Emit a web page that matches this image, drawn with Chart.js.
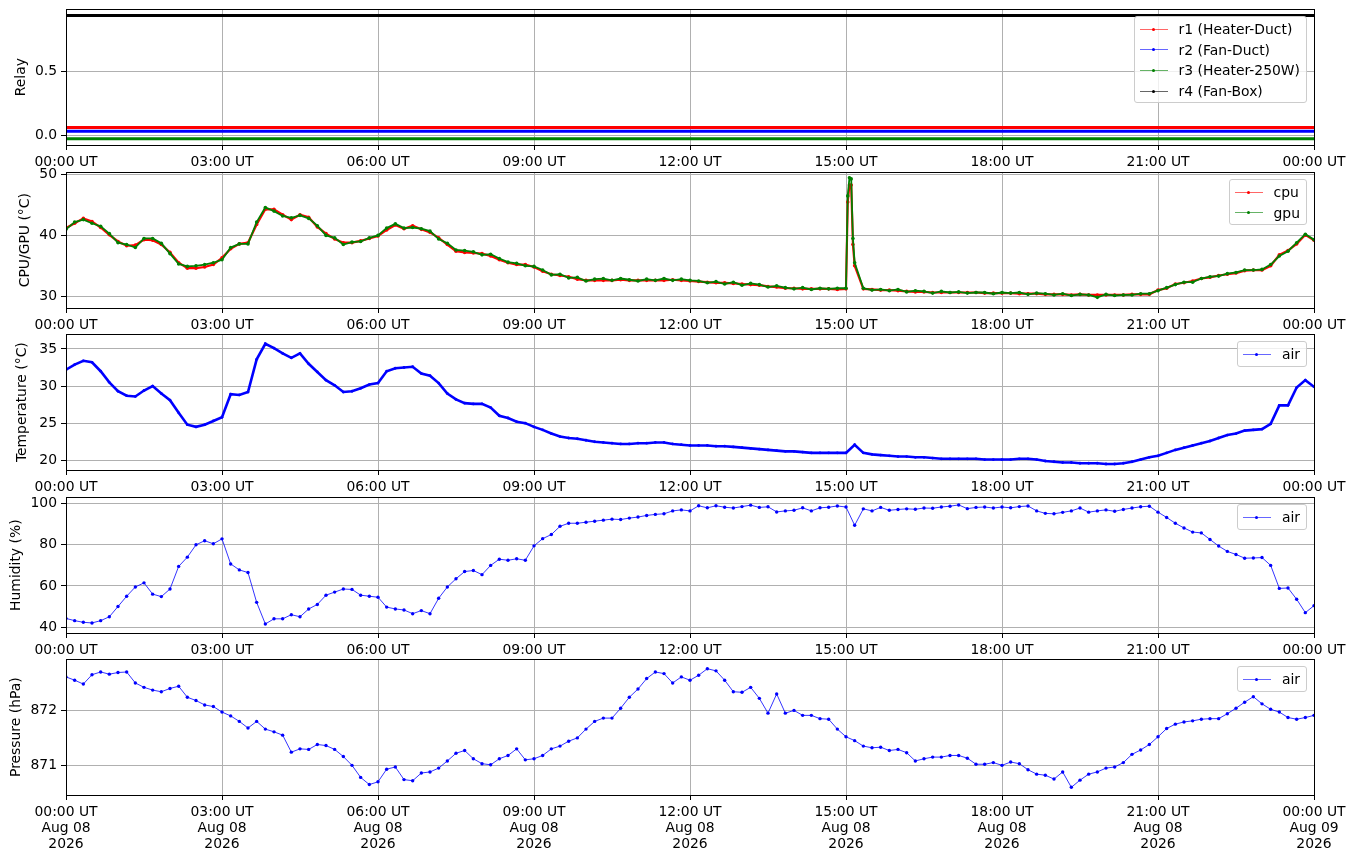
<!DOCTYPE html>
<html>
<head>
<meta charset="utf-8">
<script src="https://cdn.jsdelivr.net/npm/chart.js@4.4.0/dist/chart.umd.min.js"></script>
<style>
  html, body { margin: 0; padding: 0; background: #fff; }
  #fig { position: relative; width: 1355px; height: 861px; overflow: hidden; font-family: "DejaVu Sans", sans-serif; }
  #fig canvas { position: absolute; left: 0; }
  .legend { position: absolute; z-index: 5; background: rgba(255,255,255,0.8); border: 1px solid #ccc; border-radius: 3px;
            padding: 2px 6px 1px 5px; font-size: 13.9px; color: #000; }
  .legend .row { display: flex; align-items: center; height: 20.6px; white-space: nowrap; }
  .legend .key { position: relative; width: 28px; height: 8px; margin-right: 11px; }
  .legend .key .ln { position: absolute; left: 0; right: 0; top: 3.5px; height: 1px; opacity: 0.6; }
  .legend .key .dot { position: absolute; left: 12.5px; top: 2.5px; width: 3px; height: 3px; border-radius: 50%; }
</style>
</head>
<body>
<div id="fig"></div>
<script>
// sample times in minutes since 00:00 UT, one reading every 10 minutes
const times = Array.from({ length: 145 }, (_, i) => i * 10);

// x axis ticks (minutes) and their labels
const xTicks = [0, 180, 360, 540, 720, 900, 1080, 1260, 1440];
const xTickLabels = ["00:00 UT", "03:00 UT", "06:00 UT", "09:00 UT", "12:00 UT", "15:00 UT", "18:00 UT", "21:00 UT", "00:00 UT"];
const xDateLabels = ["Aug 08", "Aug 08", "Aug 08", "Aug 08", "Aug 08", "Aug 08", "Aug 08", "Aug 08", "Aug 09"];
const xYearLabels = ["2026", "2026", "2026", "2026", "2026", "2026", "2026", "2026", "2026"];

// relays: state over the day, plus the small offset used to keep the lines apart
const relayNames = ["r1 (Heater-Duct)", "r2 (Fan-Duct)", "r3 (Heater-250W)", "r4 (Fan-Box)"];
const relayTimes = [0, 1440];
const relayState = [0, 0, 0, 1];
const relayOffset = [0.06, 0.03, -0.03, -0.06];

// CPU / GPU temperature (deg C)
const cpu = [
  41.2, 42.0, 42.8, 42.3, 41.3, 40.1, 39.0, 38.3, 38.4, 39.3,
  39.2, 38.5, 37.2, 35.5, 34.6, 34.6, 34.8, 35.2, 36.3, 37.8,
  38.6, 38.8, 41.8, 44.3, 44.3, 43.4, 42.6, 43.4, 43.0, 41.4,
  40.3, 39.4, 38.8, 38.8, 39.1, 39.5, 39.9, 40.9, 41.7, 41.1,
  41.6, 41.0, 40.5, 39.6, 38.5, 37.4, 37.2, 37.1, 37.0, 36.6,
  36.0, 35.5, 35.2, 35.2, 34.8, 34.1, 33.6, 33.4, 33.2, 32.8,
  32.6, 32.6, 32.6, 32.6, 32.7, 32.6, 32.6, 32.6, 32.6, 32.6,
  32.7, 32.6, 32.5, 32.4, 32.3, 32.2, 32.2, 32.1, 32.0, 31.9,
  31.8, 31.6, 31.5, 31.3, 31.3, 31.2, 31.2, 31.2, 31.2, 31.1,
  31.2, 35.0, 31.2, 31.1, 31.0, 31.0, 30.9, 30.8, 30.7, 30.7,
  30.6, 30.6, 30.6, 30.6, 30.6, 30.6, 30.5, 30.5, 30.5, 30.5,
  30.4, 30.4, 30.4, 30.3, 30.3, 30.3, 30.2, 30.3, 30.2, 30.2,
  30.2, 30.2, 30.2, 30.3, 30.3, 30.3, 31.0, 31.3, 32.0, 32.2,
  32.5, 32.9, 33.1, 33.4, 33.6, 33.8, 34.2, 34.3, 34.3, 35.0,
  36.8, 37.5, 38.6, 40.1, 39.2
];
const gpu = [
  41.0, 42.2, 42.6, 42.0, 41.5, 40.3, 38.8, 38.5, 38.0, 39.5,
  39.5, 38.7, 37.0, 35.3, 34.9, 35.0, 35.2, 35.5, 36.0, 38.0,
  38.6, 38.6, 42.2, 44.6, 44.0, 43.2, 42.9, 43.3, 42.8, 41.6,
  40.0, 39.6, 38.5, 38.9, 39.0, 39.6, 40.0, 41.2, 41.9, 41.2,
  41.3, 41.1, 40.7, 39.4, 38.7, 37.6, 37.5, 37.3, 36.8, 36.9,
  36.2, 35.6, 35.4, 35.0, 34.9, 34.3, 33.5, 33.6, 33.0, 33.1,
  32.5, 32.8, 32.9, 32.6, 32.9, 32.7, 32.5, 32.8, 32.6, 32.9,
  32.6, 32.8, 32.6, 32.5, 32.2, 32.4, 32.0, 32.3, 31.8, 32.1,
  31.9, 31.5, 31.7, 31.4, 31.2, 31.4, 31.1, 31.3, 31.2, 31.3,
  31.3, 35.5, 31.3, 31.0, 31.1, 30.9, 31.1, 30.7, 30.9, 30.8,
  30.5, 30.8, 30.6, 30.7, 30.5, 30.6, 30.6, 30.4, 30.6, 30.5,
  30.6, 30.3, 30.5, 30.4, 30.2, 30.4, 30.1, 30.3, 30.2, 29.8,
  30.3, 30.1, 30.2, 30.2, 30.4, 30.4, 30.9, 31.4, 31.9, 32.3,
  32.3, 32.9, 33.2, 33.3, 33.7, 33.9, 34.3, 34.3, 34.4, 35.2,
  36.6, 37.4, 38.8, 40.2, 39.3
];
// short load spike just after 15:00 UT, read at finer spacing
const spikeTimes = [902, 904, 906, 908];
const cpuSpike = [45.5, 48.3, 48.3, 38.5];
const gpuSpike = [46.5, 49.5, 49.3, 39.5];

// air temperature (deg C)
const airTemp = [
  32.2, 32.9, 33.4, 33.2, 32.0, 30.5, 29.3, 28.7, 28.6, 29.4,
  30.0, 29.0, 28.1, 26.4, 24.8, 24.5, 24.8, 25.3, 25.8, 28.9,
  28.8, 29.2, 33.6, 35.7, 35.1, 34.4, 33.8, 34.4, 33.0, 31.9,
  30.8, 30.1, 29.2, 29.3, 29.7, 30.2, 30.4, 32.0, 32.4, 32.5,
  32.6, 31.7, 31.4, 30.4, 29.0, 28.2, 27.7, 27.6, 27.6, 27.1,
  26.0, 25.7, 25.2, 25.0, 24.5, 24.1, 23.6, 23.2, 23.0, 22.9,
  22.7, 22.5, 22.4, 22.3, 22.2, 22.2, 22.3, 22.3, 22.4, 22.4,
  22.2, 22.1, 22.0, 22.0, 22.0, 21.9, 21.9, 21.8, 21.7, 21.6,
  21.5, 21.4, 21.3, 21.2, 21.2, 21.1, 21.0, 21.0, 21.0, 21.0,
  21.0, 22.1, 21.0, 20.8, 20.7, 20.6, 20.5, 20.5, 20.4, 20.4,
  20.3, 20.2, 20.2, 20.2, 20.2, 20.2, 20.1, 20.1, 20.1, 20.1,
  20.2, 20.2, 20.1, 19.9, 19.8, 19.7, 19.7, 19.6, 19.6, 19.6,
  19.5, 19.5, 19.6, 19.8, 20.1, 20.4, 20.6, 21.0, 21.4, 21.7,
  22.0, 22.3, 22.6, 23.0, 23.4, 23.6, 24.0, 24.1, 24.2, 24.9,
  27.4, 27.4, 29.8, 30.8, 29.9
];

// relative humidity (%)
const humidity = [
  44.2, 43.1, 42.3, 42.0, 43.1, 45.0, 50.0, 55.0, 59.5, 61.5,
  56.0, 54.8, 58.5, 69.5, 74.0, 80.0, 82.0, 80.5, 82.9, 70.7,
  67.8, 66.5, 52.0, 41.5, 44.0, 44.0, 46.0, 45.0, 48.8, 51.0,
  55.5, 57.0, 58.5, 58.3, 55.5, 55.0, 54.5, 49.7, 48.8, 48.3,
  46.5, 48.0, 46.5, 54.0, 59.5, 63.5, 67.0, 67.5, 65.5, 70.0,
  73.0, 72.5, 73.2, 72.5, 79.5, 83.0, 85.0, 89.0, 90.5, 90.5,
  91.0, 91.5, 92.0, 92.5, 92.3, 93.0, 93.5, 94.3, 94.8, 95.1,
  96.5, 97.0, 96.5, 99.0, 98.0, 99.0, 98.3, 97.9, 98.6, 99.3,
  98.2, 98.5, 96.0, 96.5, 96.8, 98.0, 96.5, 98.0, 98.3, 98.9,
  98.4, 89.5, 97.5, 96.5, 98.2, 96.8, 97.2, 97.5, 97.3, 97.9,
  97.8, 98.4, 98.8, 99.4, 97.6, 98.2, 98.4, 97.9, 98.4, 98.0,
  98.6, 98.9, 96.5, 95.3, 95.1, 95.8, 96.5, 97.9, 95.9, 96.5,
  97.0, 96.3, 97.2, 97.9, 98.5, 98.8, 95.9, 93.3, 90.5, 88.2,
  86.2, 85.8, 82.6, 79.4, 76.8, 75.3, 73.5, 73.6, 73.8, 70.0,
  58.8, 59.0, 53.5, 47.0, 50.4
];

// pressure (hPa)
const pressure = [
  872.61, 872.55, 872.48, 872.65, 872.70, 872.66, 872.69, 872.70, 872.50, 872.42,
  872.37, 872.34, 872.40, 872.44, 872.24, 872.18, 872.10, 872.07, 871.97, 871.90,
  871.80, 871.68, 871.80, 871.66, 871.61, 871.55, 871.24, 871.30, 871.29, 871.38,
  871.36, 871.29, 871.16, 871.00, 870.78, 870.65, 870.70, 870.93, 870.97, 870.74,
  870.72, 870.86, 870.88, 870.95, 871.08, 871.22, 871.27, 871.12, 871.03, 871.01,
  871.12, 871.18, 871.30, 871.10, 871.12, 871.18, 871.30, 871.35, 871.44, 871.50,
  871.66, 871.80, 871.86, 871.86, 872.04, 872.24, 872.39, 872.58, 872.70, 872.67,
  872.50, 872.61, 872.55, 872.64, 872.76, 872.72, 872.55, 872.34, 872.33, 872.42,
  872.22, 871.95, 872.30, 871.95, 872.00, 871.91, 871.91, 871.85, 871.84, 871.66,
  871.52, 871.45, 871.35, 871.32, 871.33, 871.27, 871.29, 871.23, 871.08, 871.12,
  871.15, 871.15, 871.18, 871.18, 871.13, 871.02, 871.02, 871.05, 871.00, 871.06,
  871.03, 870.92, 870.84, 870.82, 870.75, 870.88, 870.60, 870.73, 870.84, 870.88,
  870.95, 870.97, 871.05, 871.20, 871.28, 871.38, 871.52, 871.67, 871.75, 871.79,
  871.81, 871.84, 871.85, 871.85, 871.94, 872.04, 872.15, 872.25, 872.12, 872.02,
  871.97, 871.87, 871.84, 871.87, 871.91
];

// y ticks per panel
const relayTicks = [0, 0.5];
const relayTickLabels = ["0.0", "0.5"];
const cpuTicks = [30, 40, 50];
const tempTicks = [20, 25, 30, 35];
const humTicks = [40, 60, 80, 100];
const presTicks = [871, 872];

const fig = document.getElementById("fig");
Chart.defaults.font.family = "'DejaVu Sans', sans-serif";
Chart.defaults.font.size = 13.9;
Chart.defaults.color = "#000";

// chart.js puts the plot area this far below the canvas top with these settings
const AREA_TOP = 12.34;

// black box round each plot area, like the axes spines
const framePlugin = {
  id: "frame",
  afterDraw(chart) {
    const a = chart.chartArea;
    const ctx = chart.ctx;
    ctx.save();
    ctx.strokeStyle = "#000";
    ctx.lineWidth = 1;
    ctx.strokeRect(Math.round(a.left) + 0.5, Math.round(a.top) + 0.5,
                   Math.round(a.right - a.left), Math.round(a.bottom - a.top));
    ctx.restore();
  }
};

function pts(xs, ys) {
  return xs.map((x, i) => ({ x: x, y: ys[i] }));
}

function addLegend(top, items) {
  const box = document.createElement("div");
  box.className = "legend";
  box.style.top = top + "px";
  box.style.right = "48px";
  items.forEach(it => {
    const row = document.createElement("div");
    row.className = "row";
    row.innerHTML = '<div class="key"><div class="ln" style="background:' + it.color +
      '"></div><div class="dot" style="background:' + it.color + '"></div></div><span>' + it.label + "</span>";
    box.appendChild(row);
  });
  fig.appendChild(box);
}

function makePanel(p) {
  const bottomH = p.dates ? 62 : 28;
  const canvasTop = Math.round(p.top - AREA_TOP);
  const h = 148 + bottomH;
  const canvas = document.createElement("canvas");
  canvas.width = 1355;
  canvas.height = h;
  canvas.style.top = canvasTop + "px";
  canvas.style.width = "1355px";
  canvas.style.height = h + "px";
  fig.appendChild(canvas);

  const grid = { color: "#b0b0b0", lineWidth: 1, tickLength: 5, tickColor: "#000", tickWidth: 1 };

  new Chart(canvas, {
    type: "line",
    data: { datasets: p.datasets },
    options: {
      responsive: false,
      animation: false,
      layout: { padding: { top: 10, right: 41, left: 0, bottom: 0 } },
      plugins: { legend: { display: false }, tooltip: { enabled: false } },
      elements: { line: { tension: 0 } },
      scales: {
        x: {
          type: "linear",
          min: 0,
          max: 1440,
          afterBuildTicks: s => { s.ticks = xTicks.map(v => ({ value: v })); },
          afterFit: s => { s.height = bottomH; },
          ticks: {
            autoSkip: false,
            maxRotation: 0,
            padding: 4,
            color: "#000",
            font: { size: 13.9, lineHeight: 1.15 },
            callback: (v, i) => p.dates ? [xTickLabels[i], xDateLabels[i], xYearLabels[i]] : xTickLabels[i]
          },
          grid: grid,
          border: { display: false }
        },
        y: {
          min: p.yMin,
          max: p.yMax,
          afterBuildTicks: s => { s.ticks = p.yTicks.map(v => ({ value: v })); },
          afterFit: s => { s.width = 66; },
          ticks: {
            padding: 4,
            color: "#000",
            callback: (v, i) => p.yLabels ? p.yLabels[i] : String(p.yTicks[i])
          },
          grid: grid,
          border: { display: false },
          title: { display: true, text: p.title, color: "#000", font: { size: 13.9 }, padding: p.titlePad }
        }
      }
    },
    plugins: [framePlugin]
  });

  addLegend(Math.round(p.top + 6.5), p.datasets.slice().sort((a, b) => a.legendIndex - b.legendIndex)
    .map(d => ({ label: d.label, color: d.borderColor })));
}

function series(label, data, color, opts) {
  return Object.assign({
    label: label,
    data: data,
    borderColor: color,
    backgroundColor: color,
    pointBackgroundColor: color,
    pointBorderWidth: 0,
    pointRadius: 1.7,
    borderWidth: 0.8,
    fill: false
  }, opts);
}

// panel 1: relays
const relayColors = ["#ff0000", "#0000ff", "#008000", "#000000"];
makePanel({
  top: 9.5, yMin: -0.0785, yMax: 0.9885, yTicks: relayTicks, yLabels: relayTickLabels,
  title: "Relay", titlePad: 13.4,
  datasets: relayNames.map((name, k) => series(name,
    pts(relayTimes, relayTimes.map(() => relayState[k] + relayOffset[k])),
    relayColors[k], { borderWidth: 3, pointRadius: 0, legendIndex: k }))
});

// panel 2: cpu / gpu
const cpuPts = pts(times, cpu).concat(pts(spikeTimes, cpuSpike)).sort((a, b) => a.x - b.x);
const gpuPts = pts(times, gpu).concat(pts(spikeTimes, gpuSpike)).sort((a, b) => a.x - b.x);
makePanel({
  top: 172.3, yMin: 28.05, yMax: 50.38, yTicks: cpuTicks,
  title: "CPU/GPU (°C)", titlePad: 16.7,
  datasets: [
    series("cpu", cpuPts, "#ff0000", { borderWidth: 2.2, pointRadius: 1.8, order: 1, legendIndex: 0 }),
    series("gpu", gpuPts, "#008000", { borderWidth: 1.8, pointRadius: 1.8, order: 0, legendIndex: 1 })
  ]
});

// panel 3: air temperature
makePanel({
  top: 334.7, yMin: 18.69, yMax: 36.97, yTicks: tempTicks,
  title: "Temperature (°C)", titlePad: 14.3,
  datasets: [series("air", pts(times, airTemp), "#0000ff", { borderWidth: 2.6, pointRadius: 1.4, legendIndex: 0 })]
});

// panel 4: humidity
makePanel({
  top: 497.3, yMin: 37.1, yMax: 103.1, yTicks: humTicks,
  title: "Humidity (%)", titlePad: 8.2,
  datasets: [series("air", pts(times, humidity), "#0000ff", { legendIndex: 0 })]
});

// panel 5: pressure
makePanel({
  top: 659.3, yMin: 870.46, yMax: 872.93, yTicks: presTicks,
  title: "Pressure (hPa)", titlePad: 8.4, dates: true,
  datasets: [series("air", pts(times, pressure), "#0000ff", { legendIndex: 0 })]
});
</script>
</body>
</html>
